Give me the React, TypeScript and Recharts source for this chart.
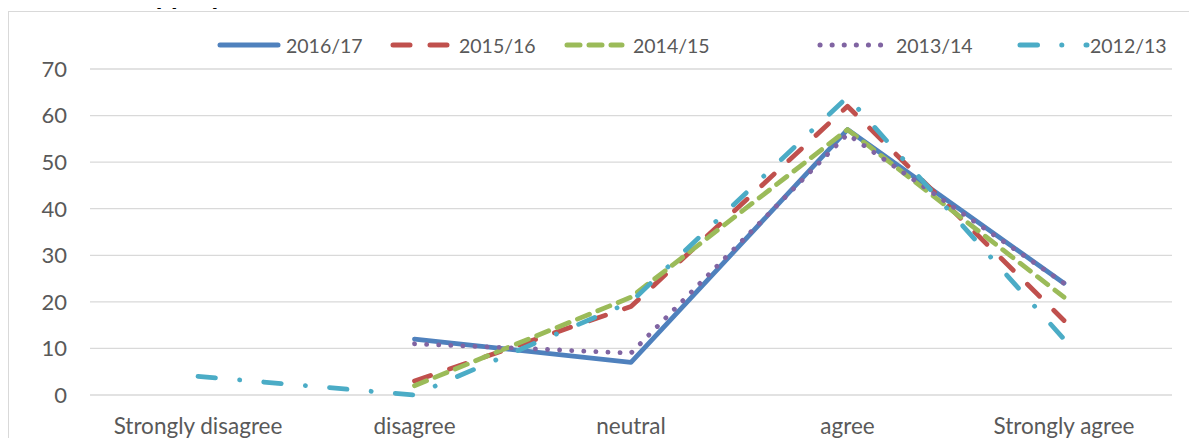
import React from 'react';
import { LineChart, Line, XAxis, YAxis, CartesianGrid } from 'recharts';

const categories = ['Strongly disagree', 'disagree', 'neutral', 'agree', 'Strongly agree'];

const y1617 = [null, 12, 7, 57, 24];
const y1516 = [null, 3, 19, 62, 16];
const y1415 = [null, 2, 21, 57, 21];
const y1314 = [null, 11, 9, 56, 24];
const y1213 = [4, 0, 20, 64, 12];

const yTicks = [0, 10, 20, 30, 40, 50, 60, 70];

const series = [
  { key: 's1617', name: '2016/17', values: y1617, color: '#4F81BD', dash: undefined },
  { key: 's1516', name: '2015/16', values: y1516, color: '#C0504D', dash: '17 20' },
  { key: 's1415', name: '2014/15', values: y1415, color: '#9BBB59', dash: '13 9' },
  { key: 's1314', name: '2013/14', values: y1314, color: '#8064A2', dash: '0.1 12' },
  { key: 's1213', name: '2012/13', values: y1213, color: '#4BACC6', dash: '17.5 24.25 0.1 24.15' },
];

const data = categories.map((cat, i) => {
  const row: Record<string, string | number | null> = { cat };
  series.forEach((s) => {
    row[s.key] = s.values[i];
  });
  return row;
});

// legend sample positions (x of line start, text start) relative to the frame
const legendSlots = [
  { x: 210, w: 62, tx: 278 },
  { x: 383, w: 59, tx: 451 },
  { x: 557, w: 59, tx: 625 },
  { x: 810, w: 67, tx: 888 },
  { x: 1010, w: 71, tx: 1082 },
];

const FONT = 'Lato, "Open Sans", sans-serif';
const TEXT = '#595959';

export default function App() {
  return (
    <div style={{ position: 'relative', width: 1189, height: 430, fontFamily: FONT }}>
      <div
        style={{
          position: 'absolute',
          left: 129,
          top: -27,
          fontSize: 27,
          lineHeight: '27px',
          fontWeight: 700,
          color: '#000',
          whiteSpace: 'nowrap',
        }}
      >
        Appropriate
      </div>
      <div
        style={{
          position: 'absolute',
          left: 0,
          top: 3,
          width: 1200,
          height: 440,
          borderLeft: '1px solid #d9d9d9',
          borderTop: '1px solid #d9d9d9',
        }}
      />
      <svg style={{ position: 'absolute', left: 0, top: 0 }} width={1189} height={60}>
        {series.map((s, i) => {
          const slot = legendSlots[i];
          return (
            <g key={s.key}>
              <line
                x1={slot.x + 2}
                x2={slot.x + slot.w - 2}
                y1={37}
                y2={37}
                stroke={s.color}
                strokeWidth={5}
                strokeLinecap="round"
                strokeDasharray={s.dash}
              />
              <text x={slot.tx} y={44.5} fontSize={19.5} fill={TEXT} fontFamily={FONT}>
                {s.name}
              </text>
            </g>
          );
        })}
      </svg>
      <LineChart
        width={1189}
        height={430}
        data={data}
        margin={{ top: 61, right: 25, bottom: 13, left: 0 }}
        style={{ position: 'absolute', left: 0, top: 0 }}
      >
        <CartesianGrid vertical={false} stroke="#d9d9d9" strokeWidth={1.3} />
        <XAxis
          dataKey="cat"
          axisLine={false}
          tickLine={false}
          tickMargin={17}
          height={30}
          padding={{ left: 108, right: 108 }}
          interval={0}
          tick={{ fontSize: 22.5, fill: TEXT, fontFamily: FONT }}
        />
        <YAxis
          domain={[0, 70]}
          ticks={yTicks}
          axisLine={false}
          tickLine={false}
          tickMargin={17}
          width={82}
          tick={{ fontSize: 22, fill: TEXT, fontFamily: FONT }}
        />
        {series.map((s) => (
          <Line
            key={s.key}
            dataKey={s.key}
            name={s.name}
            type="linear"
            stroke={s.color}
            strokeWidth={4.8}
            strokeDasharray={s.dash}
            strokeLinecap="round"
            strokeLinejoin="round"
            dot={false}
            activeDot={false}
            isAnimationActive={false}
          />
        ))}
      </LineChart>
    </div>
  );
}
